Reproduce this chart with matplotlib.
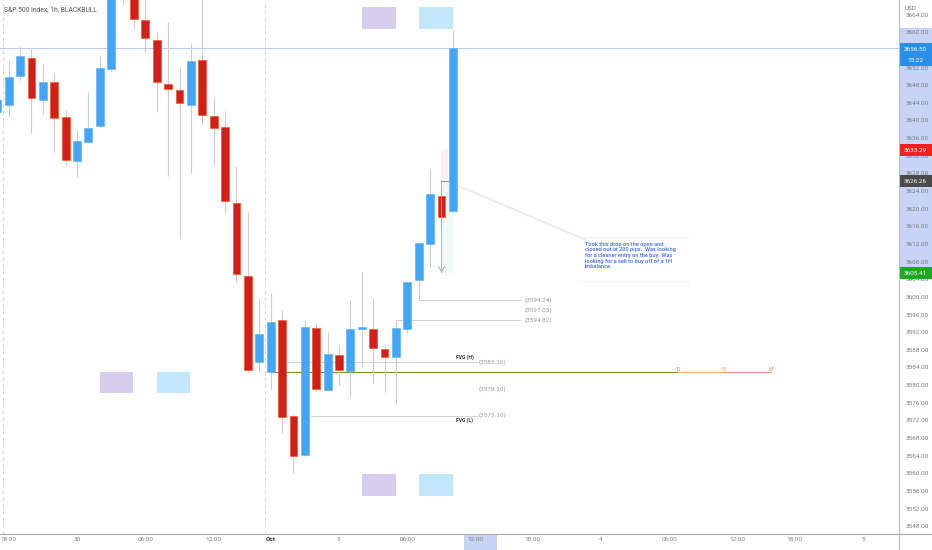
import matplotlib
matplotlib.use('Agg')
import matplotlib.pyplot as plt
import matplotlib.transforms as mtransforms
from matplotlib.patches import Rectangle
from matplotlib.lines import Line2D

plt.rcParams['font.family'] = ['Roboto', 'DejaVu Sans']

# hourly candles, S&P 500 (bar index 0 = Sep 29 16:00)
opens = [3641.9, 3643.4, 3650.1, 3654.2, 3644.6, 3648.8, 3640.7, 3630.8, 3635.1, 3638.8,
         3651.6, 3672.0, 3669.5, 3662.8, 3658.3, 3648.3, 3646.9, 3643.4, 3653.7, 3641.0,
         3638.5, 3621.4, 3604.7, 3585.2, 3583.0, 3594.8, 3573.0, 3564.2, 3592.9, 3578.9,
         3586.8, 3583.2, 3592.7, 3592.7, 3588.2, 3586.4, 3592.7, 3603.8, 3612.0, 3622.9, 3619.5]
closes = [3644.6, 3649.9, 3654.6, 3645.0, 3648.8, 3640.5, 3631.0, 3635.4, 3638.2, 3651.8,
          3671.0, 3669.5, 3663.0, 3658.8, 3648.7, 3647.1, 3644.0, 3653.5, 3641.2, 3638.2,
          3621.7, 3605.1, 3583.4, 3591.6, 3594.3, 3572.8, 3563.9, 3593.2, 3579.1, 3587.0,
          3583.4, 3592.7, 3593.2, 3588.4, 3586.4, 3592.9, 3603.4, 3612.2, 3623.3, 3618.1, 3656.5]
highs = [3645.6, 3653.7, 3656.9, 3656.4, 3652.8, 3650.8, 3642.4, 3637.8, 3646.5, 3654.6,
         3673.0, 3675.0, 3671.0, 3668.5, 3660.0, 3662.4, 3651.8, 3657.6, 3669.0, 3645.4,
         3642.2, 3629.7, 3619.3, 3599.8, 3600.9, 3597.0, 3573.4, 3594.8, 3594.1, 3592.0,
         3589.1, 3599.3, 3605.6, 3599.8, 3589.1, 3594.8, 3603.6, 3612.4, 3629.0, 3624.5, 3660.5]
lows = [3641.0, 3640.8, 3649.2, 3637.2, 3641.5, 3632.9, 3629.9, 3627.2, 3634.9, 3638.6,
        3651.1, 3666.2, 3660.7, 3655.6, 3642.0, 3627.5, 3613.4, 3628.0, 3639.2, 3629.9,
        3619.0, 3603.4, 3583.0, 3583.0, 3579.1, 3569.1, 3560.1, 3564.0, 3578.6, 3578.7,
        3580.0, 3577.3, 3584.1, 3580.5, 3578.4, 3575.7, 3591.7, 3599.3, 3606.8, 3616.0, 3619.3]

tick_pos = [1, 7, 13, 19, 24, 30, 36, 42, 47, 53, 59, 65, 70, 76]
tick_lab = ['18:00', '30', '06:00', '12:00', 'Oct', '3', '06:00', '12:00', '18:00', '4',
            '06:00', '12:00', '18:00', '5']
session_breaks = [0.5, 23.5]

price_ticks = list(range(3548, 3668, 4))
last_price = 3656.50
countdown = '15:22'
stop_price = 3633.29
entry_price = 3626.26
target_price = 3605.41

# drawn levels: (price, start bar, end bar)
levels = [(3599.24, 37.0, 45.9), (3594.82, 35.0, 45.9)]
level_labels = [3599.24, 3597.03, 3594.82]
fvg_high = (3585.30, 25.5, 42.1)
fvg_low = (3573.10, 27.5, 42.1)
mid_label = 3579.20
open_level = 3582.9
open_marks = [('D', 59.8, '#7fb75a'), ('W', 63.8, '#f5a55a'), ('M', 67.9, '#ef7b7b')]

# boxes (x0, x1, y0, y1, colour)
boxes = [(32.0, 35.0, 3660.7, 3665.7, '#d6ccec'), (37.0, 40.0, 3660.7, 3665.7, '#c2e6fa'),
         (9.0, 11.9, 3578.2, 3583.0, '#d6ccec'), (14.0, 16.9, 3578.2, 3583.0, '#c2e6fa'),
         (32.0, 35.0, 3554.8, 3559.8, '#d6ccec'), (37.0, 40.0, 3554.8, 3559.8, '#c2e6fa')]

note = ("Took this drop on the open and\n"
        "closed out at 200 pips.  Was looking\n"
        "for a cleaner entry on the buy. Was\n"
        "looking for a sell to buy off of a 1H\n"
        "imbalance.")

W, H = 932, 550
fig = plt.figure(figsize=(W / 100, H / 100), dpi=100)
ax = fig.add_axes([0, 16 / H, 899 / W, 534 / H])
ax.set_xlim(0.236, 79.17)
ax.set_ylim(3546.24, 3667.32)

for xb in session_breaks:
    ax.axvline(xb, color='#d4d4d4', lw=0.8, ls=(0, (3, 3)), zorder=0)

ax.axhline(last_price, color='#bccaf3', lw=0.8, zorder=1)

blue = '#42a5f5'
red = '#d21f1a'
for i in range(len(opens)):
    o, c = opens[i], closes[i]
    ax.vlines(i, lows[i], highs[i], color='#cccccc', lw=0.8, zorder=2)
    up = c >= o
    ax.bar(i, abs(c - o), bottom=min(o, c), width=0.69,
           color=blue if up else red, edgecolor='#64b5f6' if up else '#ee5a2a',
           lw=0.5, zorder=3)

for x0, x1, y0, y1, col in boxes:
    ax.add_patch(Rectangle((x0, y0), x1 - x0, y1 - y0, facecolor=col, edgecolor='none', zorder=1))

# short position tool
ax.add_patch(Rectangle((39.0, entry_price), 0.6, stop_price - entry_price,
                       facecolor='#f23645', alpha=0.07, edgecolor='none', zorder=1))
ax.add_patch(Rectangle((39.0, target_price), 1.0, entry_price - target_price,
                       facecolor='#089981', alpha=0.06, edgecolor='none', zorder=1))
ax.plot([39.0, 39.6], [entry_price, entry_price], color='#8a8a8a', lw=0.7, zorder=4)
ax.plot([39.0, 39.0], [entry_price, target_price + 0.3], color='#a8a8a8', lw=0.6, zorder=4)
ax.plot([38.72, 39.0, 39.28], [target_price + 1.5, target_price + 0.3, target_price + 1.5],
        color='#a8a8a8', lw=0.6, zorder=4)

lvl_col = '#d2d2d2'
lbl_col = '#9a9a9a'
for p, x0, x1 in levels:
    ax.plot([x0, x1], [p, p], color=lvl_col, lw=0.7, zorder=1)
for p in level_labels:
    ax.text(46.3, p, '(%.2f)' % p, fontsize=4.6, color=lbl_col, va='center', ha='left')

for (p, x0, x1), name, dy in [(fvg_high, 'FVG (H)', 1), (fvg_low, 'FVG (L)', -1)]:
    ax.plot([x0, x1], [p, p], color=lvl_col, lw=0.7, zorder=1)
    ax.text(41.8, p + dy * 0.3, name, fontsize=3.6, color='#333333', ha='right',
            va='bottom' if dy > 0 else 'top', fontweight='bold')
    ax.text(42.3, p, '(%.2f)' % p, fontsize=4.6, color=lbl_col, va='center', ha='left')
ax.text(42.3, mid_label, '(%.2f)' % mid_label, fontsize=4.6, color=lbl_col, va='center', ha='left')

ax.plot([24, open_marks[0][1]], [open_level, open_level], color='#7f8c2c', lw=0.8, zorder=1)
ax.plot([open_marks[0][1], open_marks[1][1]], [open_level, open_level], color='#f7b57e', lw=0.8, zorder=1)
ax.plot([open_marks[1][1], open_marks[2][1]], [open_level, open_level], color='#f29090', lw=0.8, zorder=1)
for name, xm, col in open_marks:
    ax.text(xm, open_level + 0.6, name, fontsize=3.4, color=col, ha='center', va='center')

# note with connector
ax.plot([40.6, 51.75], [3625.0, 3612.9], color='#ebebeb', lw=1.4, zorder=1)
ax.plot([51.2, 60.6], [3613.6, 3613.6], color='#efefef', lw=0.8, zorder=1)
ax.plot([51.2, 60.6], [3603.7, 3603.7], color='#efefef', lw=0.8, zorder=1)
ax.text(51.6, 3612.5, note, fontsize=4.1, color='#3c68f0', ha='left', va='top',
        linespacing=1.15, fontweight='medium')

# axes styling
for s in ax.spines.values():
    s.set_visible(False)
ax.yaxis.tick_right()
ax.set_yticks(price_ticks)
ax.set_yticklabels(['%.2f' % v for v in price_ticks])
ax.tick_params(axis='y', length=0, pad=4.5, labelsize=4.6, labelcolor='#7d7d7d')
ax.set_xticks(tick_pos)
ax.set_xticklabels(tick_lab)
ax.tick_params(axis='x', length=0, pad=2.5, labelsize=4.6, labelcolor='#808080')
lab = ax.get_xticklabels()[4]
lab.set_fontweight('bold')
lab.set_color('#333333')

# right scale highlight band and price badges
tb = mtransforms.blended_transform_factory(fig.transFigure, ax.transData)
x_ax0 = 899 / W
ax.add_patch(Rectangle((x_ax0, target_price), 1 - x_ax0, 3660.9 - target_price, transform=tb,
                       facecolor='#c8d4f5', edgecolor='none', clip_on=False, zorder=0.5))


def badge(price, text, col, h=1.36):
    ax.add_patch(Rectangle((x_ax0, price - h), 1 - x_ax0, 2 * h, transform=tb,
                           facecolor=col, edgecolor='none', clip_on=False, zorder=5))
    ax.text((x_ax0 + 1) / 2, price, text, transform=tb,
            fontsize=4.6, color='white', ha='center', va='center', clip_on=False, zorder=6)


badge(stop_price, '%.2f' % stop_price, '#f0201e')
badge(entry_price, '%.2f' % entry_price, '#4a4a4a')
badge(target_price, '%.2f' % target_price, '#1fa81f')
ax.add_patch(Rectangle((x_ax0, 3652.4), 1 - x_ax0, 5.2, transform=tb,
                       facecolor='#2a8fe8', edgecolor='none', clip_on=False, zorder=5))
ax.text((x_ax0 + 1) / 2, 3656.2, '%.2f' % last_price, transform=tb, fontsize=4.6,
        color='white', ha='center', va='center', clip_on=False, zorder=6)
ax.text((x_ax0 + 1) / 2, 3653.7, countdown, transform=tb, fontsize=4.6,
        color='white', ha='center', va='center', clip_on=False, zorder=6)

# highlighted time on bottom scale (behind the tick labels)
fig.patches.append(Rectangle((464 / W, 0), 33 / W, 16 / H, transform=fig.transFigure,
                             facecolor='#c8d4f5', edgecolor='none', zorder=-1))

fig.lines.append(Line2D([0, 1], [16 / H, 16 / H], transform=fig.transFigure, color='#a8a8a8', lw=0.8))
fig.lines.append(Line2D([x_ax0, x_ax0], [0, 1], transform=fig.transFigure, color='#bdbdbd', lw=0.8))

fig.text(4 / W, 1 - 9.3 / H, 'S&P 500 Index, 1h, BLACKBULL', fontsize=4.9, color='#555555',
         ha='left', va='center')
fig.text(905 / W, 1 - 9 / H, 'USD', fontsize=4.6, color='#777777', ha='left', va='center')

fig.savefig('out.png', dpi=100)
